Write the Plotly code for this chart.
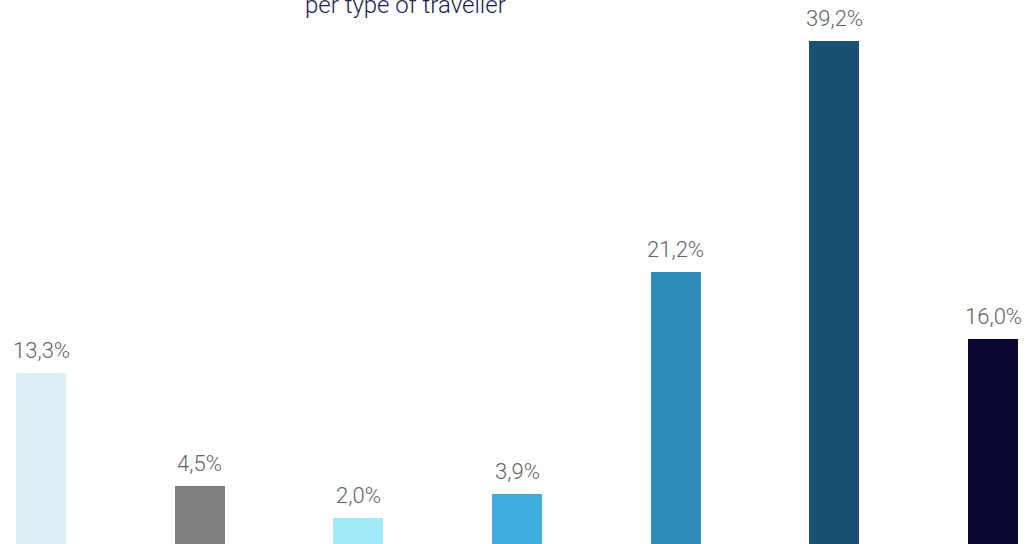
import plotly.graph_objects as go

# Share of travellers per type (%)
categories = ["Type 1", "Type 2", "Type 3", "Type 4", "Type 5", "Type 6", "Type 7"]
shares = [13.3, 4.5, 2.0, 3.9, 21.2, 39.2, 16.0]
bar_colors = ["#daeef3", "#808080", "#a3eaf7", "#40aedc", "#2e8bb6", "#185173", "#0a0834"]
title_text = "per type of traveller"

fig = go.Figure()
fig.add_trace(go.Bar(
    x=list(range(len(categories))),
    y=shares,
    marker=dict(color=bar_colors, line=dict(width=0)),
    width=0.315,
    hoverinfo="skip",
))

# value labels above each bar, decimal comma
for i, v in enumerate(shares):
    fig.add_annotation(
        x=i, y=v, xref="x", yref="y",
        text=f"{v:.1f}%".replace(".", ","),
        showarrow=False, yanchor="bottom", yshift=8,
        font=dict(family="Roboto", size=22, color="#636363", weight=300),
    )

# subtitle line at the top of the chart
fig.add_annotation(
    x=405 / 1026, xref="paper", y=1 - 5 / 544, yref="paper",
    text=title_text, showarrow=False, xanchor="center", yanchor="middle",
    font=dict(family="Roboto", size=24, color="#1d1d4f", weight=300),
)

fig.update_layout(
    width=1026, height=544,
    margin=dict(l=0, r=0, t=0, b=0),
    paper_bgcolor="white", plot_bgcolor="white",
    showlegend=False,
    xaxis=dict(range=[-0.2584, 6.208], visible=False, fixedrange=True),
    yaxis=dict(range=[0, 42.4], visible=False, fixedrange=True),
    bargap=0,
)

fig.write_html("out.html", config={"displayModeBar": False})
